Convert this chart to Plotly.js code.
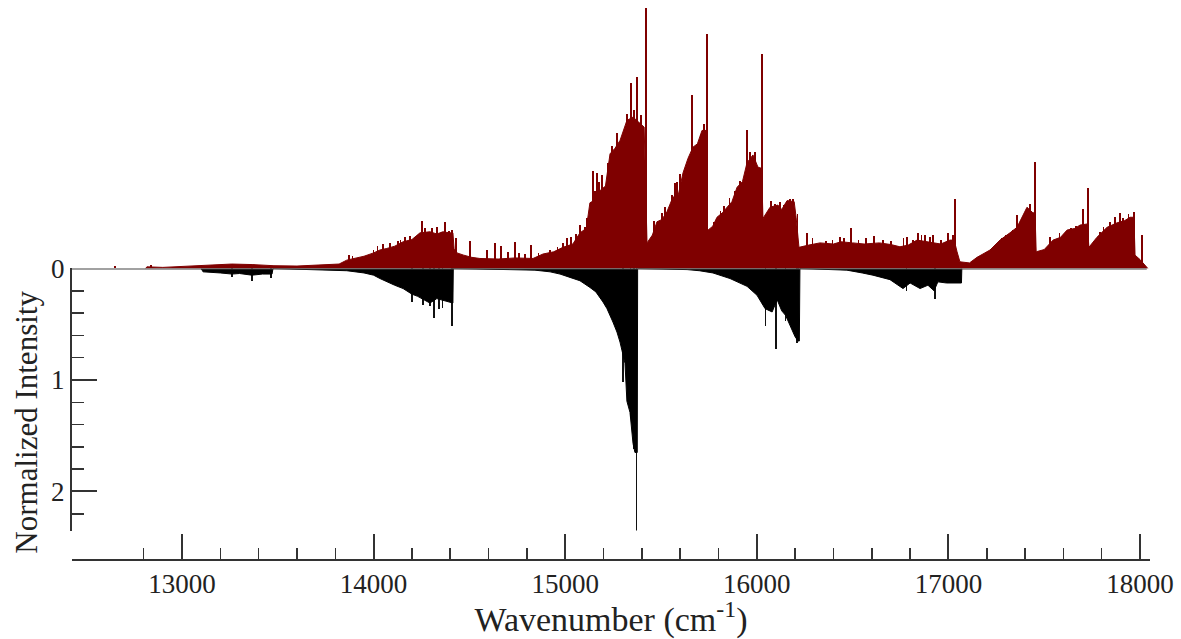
<!DOCTYPE html>
<html>
<head>
<meta charset="utf-8">
<script src="https://cdn.plot.ly/plotly-3.0.1.min.js"></script>
<style>html,body{margin:0;padding:0;background:#fff;}#chart{width:1181px;height:639px;}</style>
</head>
<body>
<div id="chart"></div>
<script>
// Upper (red) spectrum: envelope of the line forest (wavenumber, intensity)
const redX = [12810,12817,12900,13040,13160,13260,13370,13480,13600,13700,13820,13860,13900,13950,14000,14033,14069,14110,14154,14200,14242,14294,14330,14362,14395,14414,14420,14435,14470,14513,14555,14650,14740,14832,14884,14940,14988,15040,15077,15110,15129,15160,15182,15210,15234,15260,15286,15322,15354,15390,15412,15427,15455,15479,15505,15531,15562,15590,15615,15641,15667,15690,15714,15736,15742,15770,15792,15820,15844,15870,15897,15925,15949,15980,16006,16025,16032,16069,16110,16130,16158,16195,16205,16220,16270,16330,16400,16440,16500,16560,16640,16700,16747,16790,16836,16880,16919,16960,17008,17030,17045,17060,17110,17149,17217,17269,17321,17358,17410,17441,17452,17458,17500,17546,17585,17619,17660,17687,17725,17733,17775,17828,17880,17920,17948,17968,17974,18000,18041];
const redY = [0,0.015,0.01,0.022,0.035,0.04,0.035,0.025,0.022,0.028,0.04,0.075,0.09,0.11,0.14,0.166,0.18,0.20,0.24,0.26,0.32,0.33,0.31,0.33,0.32,0.32,0.18,0.14,0.12,0.10,0.09,0.085,0.095,0.09,0.13,0.15,0.19,0.22,0.32,0.36,0.59,0.62,0.70,0.74,1.03,1.08,1.15,1.33,1.36,1.30,1.27,0.23,0.30,0.42,0.44,0.51,0.64,0.66,0.86,0.99,1.09,1.12,1.24,1.24,0.34,0.38,0.46,0.50,0.55,0.60,0.73,0.78,0.95,1.02,0.91,0.90,0.45,0.55,0.57,0.53,0.61,0.60,0.46,0.19,0.21,0.23,0.22,0.24,0.23,0.22,0.23,0.215,0.195,0.21,0.255,0.245,0.23,0.22,0.255,0.255,0.15,0.06,0.05,0.10,0.166,0.255,0.32,0.37,0.55,0.50,0.50,0.15,0.17,0.255,0.28,0.345,0.36,0.39,0.40,0.19,0.28,0.37,0.41,0.43,0.46,0.46,0.12,0.08,0];
// Upper (red) spectrum: individual lines standing above the envelope
const redLineX = [12650,12840,13870,13890,14000,14020,14050,14086,14128,14140,14164,14190,14216,14253,14270,14305,14330,14357,14373,14394,14410,14430,14503,14592,14634,14665,14700,14738,14760,14790,14821,14860,14920,14960,14990,15009,15030,15055,15077,15103,15115,15145,15155,15166,15175,15192,15225,15244,15270,15300,15310,15322,15343,15360,15375,15395,15420,15465,15495,15505,15520,15537,15557,15573,15583,15600,15662,15690,15709,15725,15740,15775,15810,15830,15858,15885,15912,15949,15965,15990,16027,16074,16095,16120,16140,16175,16190,16212,16262,16290,16360,16395,16434,16455,16492,16530,16570,16610,16660,16700,16765,16784,16815,16841,16860,16878,16905,16919,16960,16998,17025,17034,17160,17200,17240,17279,17300,17335,17358,17390,17425,17452,17530,17580,17640,17665,17702,17728,17790,17810,17843,17869,17895,17910,17940,17969,18010];
const redLineY = [0.02,0.03,0.12,0.11,0.17,0.20,0.22,0.23,0.25,0.26,0.28,0.29,0.28,0.43,0.36,0.36,0.37,0.33,0.42,0.34,0.35,0.27,0.25,0.166,0.23,0.20,0.15,0.24,0.14,0.13,0.21,0.14,0.17,0.19,0.23,0.27,0.28,0.31,0.39,0.37,0.45,0.88,0.70,0.86,0.78,0.84,0.95,1.10,1.22,1.20,1.25,1.39,1.67,1.42,1.72,1.38,2.34,0.43,0.40,0.50,0.55,0.47,0.66,0.77,0.78,0.85,1.56,1.12,1.20,1.30,2.11,0.42,0.52,0.56,0.63,0.70,0.79,1.24,1.05,1.05,1.93,0.61,0.58,0.60,0.57,0.62,0.62,0.49,0.32,0.27,0.25,0.26,0.28,0.27,0.36,0.26,0.27,0.29,0.26,0.25,0.27,0.285,0.26,0.32,0.30,0.30,0.28,0.30,0.26,0.32,0.30,0.62,0.11,0.15,0.20,0.27,0.30,0.35,0.48,0.45,0.58,0.96,0.28,0.32,0.36,0.38,0.53,0.72,0.33,0.37,0.42,0.46,0.50,0.45,0.49,0.51,0.30];

// Lower (black) spectrum, plotted downward: envelope
const blackX = [13100,13110,13200,13261,13300,13365,13420,13470,13475,13860,13950,14000,14033,14070,14110,14154,14200,14230,14260,14294,14330,14370,14400,14414,14416,14842,14921,14973,15025,15077,15129,15160,15197,15218,15249,15270,15286,15302,15312,15322,15338,15354,15364,15376,15378,15636,15700,15771,15860,15949,16001,16043,16080,16106,16130,16150,16173,16199,16215,16222,16225,16470,16550,16606,16695,16763,16800,16852,16893,16925,16945,16990,17068,17070];
const blackY = [0,0.03,0.04,0.05,0.045,0.06,0.05,0.05,0,0.02,0.04,0.06,0.09,0.12,0.15,0.18,0.23,0.25,0.28,0.31,0.27,0.29,0.31,0.31,0,0.015,0.03,0.05,0.08,0.11,0.17,0.21,0.30,0.36,0.48,0.57,0.66,0.78,0.85,1.19,1.29,1.57,1.65,1.65,0,0.01,0.02,0.04,0.09,0.16,0.24,0.36,0.39,0.28,0.38,0.42,0.51,0.61,0.65,0.65,0,0.015,0.04,0.06,0.10,0.18,0.13,0.18,0.15,0.20,0.12,0.13,0.13,0];
// Lower (black) spectrum: individual strong lines
const blackLineX = [13261,13365,13465,14200,14258,14294,14315,14340,14360,14410,15302,15340,15360,15373,16045,16100,16150,16210,16218,16780,16930];
const blackLineY = [0.08,0.11,0.085,0.30,0.33,0.34,0.44,0.36,0.35,0.52,1.02,1.34,1.62,2.36,0.52,0.72,0.47,0.67,0.62,0.20,0.27];

// Axis ticks
const xMajorTicks = [13000,14000,15000,16000,17000,18000];
const xMinorTicks = [12800,13200,13400,13600,13800,14200,14400,14600,14800,15200,15400,15600,15800,16200,16400,16600,16800,17200,17400,17600,17800];
const yMajorTicks = [0,1,2];

const RED = '#7f0000';
const AX = '#333333';
const FONT = 'Liberation Serif, Times New Roman, serif';

const traces = [
  {type:'scatter', mode:'lines', x:redX, y:redY, yaxis:'y2', line:{color:RED, width:1}, fill:'tozeroy', fillcolor:RED, showlegend:false},
  {type:'bar', x:redLineX, y:redLineY, yaxis:'y2', width:9, marker:{color:RED, line:{width:0}}, showlegend:false},
  {type:'scatter', mode:'lines', x:blackX, y:blackY, yaxis:'y', line:{color:'#000', width:1}, fill:'tozeroy', fillcolor:'#000', showlegend:false},
  {type:'bar', x:blackLineX, y:blackLineY, yaxis:'y', width:8, marker:{color:'#111', line:{width:0}}, showlegend:false}
];

const layout = {
  width:1181, height:639,
  margin:{l:72, r:31, t:8, b:79},
  paper_bgcolor:'#fff', plot_bgcolor:'#fff',
  barmode:'overlay', bargap:0,
  showlegend:false,
  font:{family:FONT, color:'#222'},
  xaxis:{
    range:[12426,18052], anchor:'free', position:0,
    showline:true, linecolor:AX, linewidth:2, zeroline:false, showgrid:false,
    tickmode:'array', tickvals:xMajorTicks, ticktext:xMajorTicks.map(String),
    ticks:'inside', ticklen:25, tickwidth:2, tickcolor:AX,
    minor:{tickmode:'array', tickvals:xMinorTicks, ticks:'inside', ticklen:11, tickwidth:1.5, tickcolor:AX, showgrid:false},
    tickfont:{family:FONT, size:27, color:'#222'},
    title:{text:'Wavenumber (cm<sup>-1</sup>)', font:{family:FONT, size:34, color:'#222'}, standoff:0}
  },
  yaxis:{
    domain:[0.0534,0.5281], range:[2.35,0], anchor:'x',
    showline:true, linecolor:AX, linewidth:2, zeroline:false, showgrid:false,
    tickmode:'array', tickvals:yMajorTicks, ticktext:yMajorTicks.map(String),
    ticks:'inside', ticklen:25, tickwidth:2, tickcolor:AX,
    minor:{dtick:0.2, tick0:0, ticks:'inside', ticklen:12, tickwidth:1.5, tickcolor:AX, showgrid:false},
    tickfont:{family:FONT, size:27, color:'#222'}
  },
  yaxis2:{
    domain:[0.5281,1], range:[0,2.34], anchor:'x', visible:false, showgrid:false, zeroline:false
  },
  shapes:[
    {type:'line', xref:'paper', x0:0, x1:0.997, yref:'y', y0:0, y1:0, line:{color:'#444', width:2}}
  ],
  annotations:[
    {text:'Normalized Intensity', xref:'paper', yref:'paper', x:-0.043, y:0.25, xanchor:'center', yanchor:'middle', textangle:-90, showarrow:false, font:{family:FONT, size:31, color:'#222'}}
  ]
};

Plotly.newPlot('chart', traces, layout, {displayModeBar:false, staticPlot:true});
</script>
</body>
</html>
